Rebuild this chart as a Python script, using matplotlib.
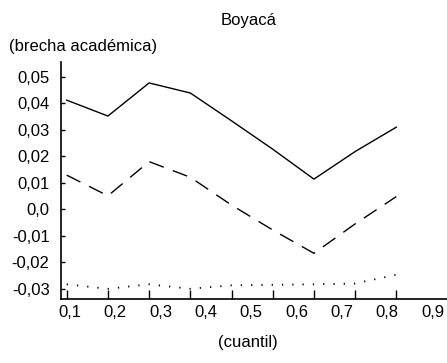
import matplotlib
matplotlib.use("Agg")
import matplotlib.pyplot as plt

plt.rcParams['font.family'] = ['Liberation Sans Narrow', 'Liberation Sans', 'DejaVu Sans']
plt.rcParams['font.size'] = 12

# brecha por cuantil (Boyacá)
cuantiles = [0.1, 0.2, 0.3, 0.4, 0.5, 0.6, 0.7, 0.8, 0.9]
brecha_total = [0.0412, 0.0352, 0.0477, 0.0439, 0.0334, 0.0227, 0.0114, 0.0218, 0.0310]
brecha_b = [0.0129, 0.0051, 0.0180, 0.0121, 0.0016, -0.0078, -0.0166, -0.0055, 0.0048]
brecha_c = [-0.0283, -0.0300, -0.0283, -0.0300, -0.0287, -0.0285, -0.0283, -0.0280, -0.0247]
x_labels = ["0,1", "0,2", "0,3", "0,4", "0,5", "0,6", "0,7", "0,8", "0,9"]
y_ticks = [-0.03, -0.02, -0.01, 0.0, 0.01, 0.02, 0.03, 0.04, 0.05]
y_labels = ["-0,03", "-0,02", "-0,01", "0,0", "0,01", "0,02", "0,03", "0,04", "0,05"]

W, H = 447, 363
fig = plt.figure(figsize=(W / 100, H / 100), dpi=100)
ax = fig.add_axes([60.7 / W, (H - 299.3) / H, (W - 60.7) / W, (299.3 - 62) / H])

idx = list(range(len(cuantiles)))
ax.plot(idx, brecha_total, color="black", lw=1.0)
ax.plot(idx, brecha_b, color="black", lw=1.0, linestyle=(0, (11, 7)))
ax.plot(idx, brecha_c, color="black", lw=1.3, linestyle=(0, (0.7, 5)))

ax.set_xlim(-0.146, 9.23)
ax.set_ylim(-0.03396, 0.0556)
ax.set_xticks(idx)
ax.set_xticklabels([])
ax.set_yticks(y_ticks)
ax.set_yticklabels(y_labels)
ax.tick_params(axis="x", direction="in", length=6.5, width=1, color="black")
ax.tick_params(axis="y", direction="in", length=3, width=1, pad=8)
for side in ["top", "right"]:
    ax.spines[side].set_visible(False)
for side in ["left", "bottom"]:
    ax.spines[side].set_linewidth(1.2)

# etiquetas de cuantil en su propia escala
ax2 = ax.twiny()
ax2.set_xlim(0.0795, 0.932)
ax2.set_xticks(cuantiles)
ax2.set_xticklabels(x_labels)
ax2.xaxis.set_ticks_position("bottom")
ax2.xaxis.set_label_position("bottom")
ax2.tick_params(axis="x", length=0, pad=4)
for s in ax2.spines.values():
    s.set_visible(False)

fig.text(249 / W, 1 - 20 / H, "Boyacá", ha="center", va="center")
fig.text(9 / W, 1 - 47 / H, "(brecha académica)", ha="left", va="center")
fig.text(248 / W, 1 - 343 / H, "(cuantil)", ha="center", va="center")

fig.savefig("out.png", dpi=100)
